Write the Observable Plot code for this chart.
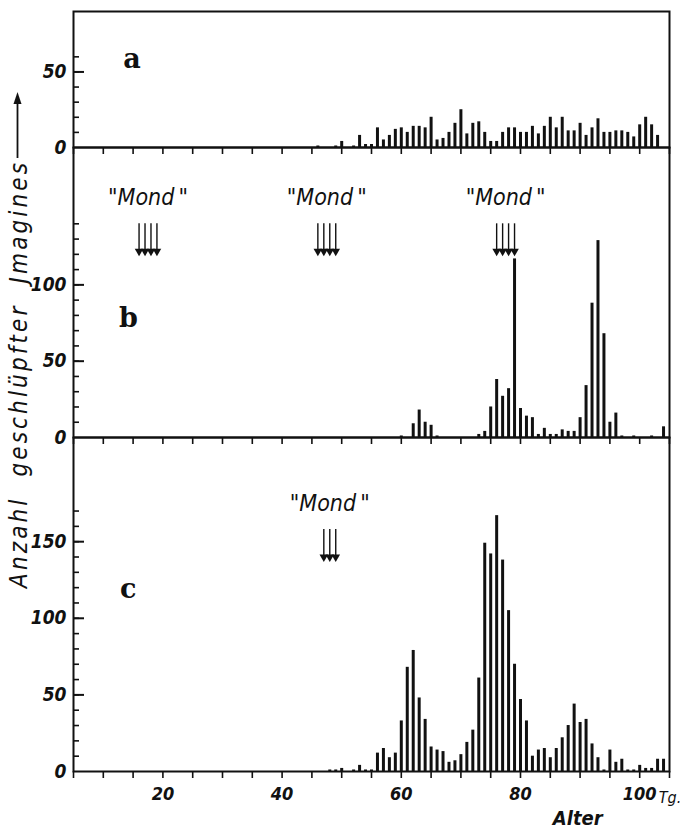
<!DOCTYPE html>
<html><head><meta charset="utf-8">
<script src="https://cdn.jsdelivr.net/npm/d3@7"></script>
<script src="https://cdn.jsdelivr.net/npm/@observablehq/plot@0.6"></script>
<style>
body{margin:0;background:#fff;}
#wrap{position:relative;width:683px;height:833px;overflow:hidden;background:#fff;}
#wrap svg{position:absolute;left:0;}
</style></head><body><div id="wrap"></div>
<script>
// ---- data (counts of hatched imagines per day of age) ----
const startA = 46;
const countsA = [1,0,0,1,4,0,1,8,2,2, 13,5,8,12,13,10,14,14,13,20, 5,6,10,16,25,9,16,17,10,4, 4,10,13,13,10,10,14,9,14,20, 13,20,11,11,16,8,13,19,10,10, 11,11,10,7,15,20,15,8];
const startB = 60;
const countsB = [1,0,9,18,10,8,1,0,0,0, 0,0,0,2,4,20,38,27,32,117, 19,14,13,2,6,2,2,5,4,4, 13,34,88,129,68,10,16,1,0,1, 0,0,1,0,7];
const startC = 48;
const countsC = [1,1,2,0,1,4,1,1, 12,15,9,12,33,68,79,48,34,16, 14,13,6,7,11,19,27,61,149,142, 167,138,105,70,47,33,10,14,15,9, 15,22,30,44,32,34,18,9,1,14, 6,8,1,1,4,2,2,8,8];
const moonDaysB = [16,17,18,19, 46,47,48,49, 76,77,78,79];
const moonGroupsB = [[16,17,18,19],[46,47,48,49],[76,77,78,79]];
const moonDaysC = [47,48,49];
const moonGroupsC = [[47,48,49]];
const moonLabel = "\"Mond\u2009\"";
const xTicks = d3.range(5, 106, 5);
const xTickLabels = [20, 40, 60, 80, 100];
const yLabelsA = [0, 50], yLabelsB = [0, 50, 100], yLabelsC = [0, 50, 100, 150];
const yMinorA = d3.range(10, 61, 10), yMinorB = d3.range(10, 141, 10), yMinorC = d3.range(10, 171, 10);
const yTitle = "Anzahl  geschlüpfter  Jmagines";
const xTitle = "Alter";
const unit = "Tg.";

const sans = "'DejaVu Sans Condensed','DejaVu Sans',sans-serif";
const serif = "'DejaVu Serif','Liberation Serif',serif";
const ink = "#111";

function panel(o) {
  const data = o.counts.map((n, i) => ({day: o.start + i, n}));
  const marks = [
    Plot.ruleX(data, {x: "day", y1: 0, y2: "n", strokeWidth: 3, stroke: ink}),
    Plot.frame({strokeWidth: 2, stroke: ink}),
    Plot.axisX({ticks: xTicks, tickSize: 7, tickFormat: () => "", strokeWidth: 1.6, stroke: ink, label: null}),
    Plot.axisY({ticks: o.minor, tickSize: -6, tickFormat: () => "", strokeWidth: 1.6, stroke: ink, label: null}),
    Plot.axisY({ticks: o.labels.filter(d => d > 0), tickSize: -11, tickFormat: () => "", strokeWidth: 2, stroke: ink, label: null}),
    Plot.axisY({ticks: o.labels, tickSize: 0, tickPadding: 7, fontSize: 19, fontStyle: "italic", fontWeight: "bold", fill: ink, label: null}),
    Plot.text([o.letter], {x: d => d.x, y: d => d.y, text: d => d.t, fontFamily: serif, fontWeight: "bold", fontSize: 27, fill: ink})
  ];
  if (o.moonDays) {
    marks.push(
      Plot.ruleX(o.moonDays, {x: d => d, y1: o.moonY[0], y2: o.moonY[1], strokeWidth: 1.4, stroke: ink}),
      Plot.dot(o.moonDays, {x: d => d, y: o.moonY[0], symbol: "triangle", rotate: 180, r: 3.2, fill: ink, stroke: "none"}),
      Plot.text(o.moonGroups, {x: g => d3.mean(g), y: o.moonY[2], text: () => moonLabel, fontFamily: sans, fontStyle: "italic", fontSize: 23, fill: ink})
    );
  }
  if (o.bottom) {
    marks.push(
      Plot.axisX({ticks: xTickLabels, tickSize: 0, tickPadding: 16, fontSize: 18, fontStyle: "italic", fontWeight: "bold", fill: ink, label: null}),
      Plot.text([{x: 100, t: unit}], {x: "x", y: 0, text: "t", dx: 19, dy: 26, textAnchor: "start", fontFamily: sans, fontStyle: "italic", fontSize: 16, fill: ink}),
      Plot.text([{x: 89.6, t: xTitle}], {x: "x", y: 0, text: "t", dy: 47, fontFamily: sans, fontStyle: "italic", fontWeight: "bold", fontSize: 20, fill: ink})
    );
  }
  const svg = Plot.plot({
    width: 683, height: o.mT + o.plotH + o.mB,
    marginLeft: 73, marginRight: 14, marginTop: o.mT, marginBottom: o.mB,
    style: {background: "none", overflow: "visible", fontFamily: sans, color: ink},
    x: {domain: [5, 105]},
    y: {domain: [0, o.yMax]},
    marks
  });
  svg.style.top = o.top + "px";
  return svg;
}

const wrap = document.getElementById("wrap");
wrap.append(panel({counts: countsA, start: startA, yMax: 90, plotH: 136, mT: 10, mB: 10, top: 1,
  minor: yMinorA, labels: yLabelsA, letter: {x: 14.8, y: 58, t: "a"}}));
wrap.append(panel({counts: countsB, start: startB, yMax: 190, plotH: 290, mT: 10, mB: 10, top: 137,
  minor: yMinorB, labels: yLabelsB, letter: {x: 14.2, y: 78, t: "b"},
  moonDays: moonDaysB, moonGroups: moonGroupsB, moonY: [122, 140, 157]}));
wrap.append(panel({counts: countsC, start: startC, yMax: 218, plotH: 334, mT: 10, mB: 62, top: 427,
  minor: yMinorC, labels: yLabelsC, letter: {x: 14.2, y: 119, t: "c"},
  moonDays: moonDaysC, moonGroups: moonGroupsC, moonY: [140, 158, 175], bottom: true}));

// vertical axis title with upward arrow
const t = d3.create("svg").attr("width", 40).attr("height", 833).style("top", "0px");
t.append("text")
  .attr("transform", "translate(27,588) rotate(-90)")
  .attr("textLength", 425).attr("lengthAdjust", "spacing")
  .style("white-space", "pre")
  .attr("font-family", sans).attr("font-style", "italic").attr("font-size", 24).attr("fill", ink)
  .text(yTitle);
t.append("line").attr("x1", 17.5).attr("x2", 17.5).attr("y1", 158).attr("y2", 100)
  .attr("stroke", ink).attr("stroke-width", 1.8);
t.append("path").attr("d", "M17.5,92 L13.5,104 L21.5,104 Z").attr("fill", ink);
wrap.append(t.node());
</script></body></html>
